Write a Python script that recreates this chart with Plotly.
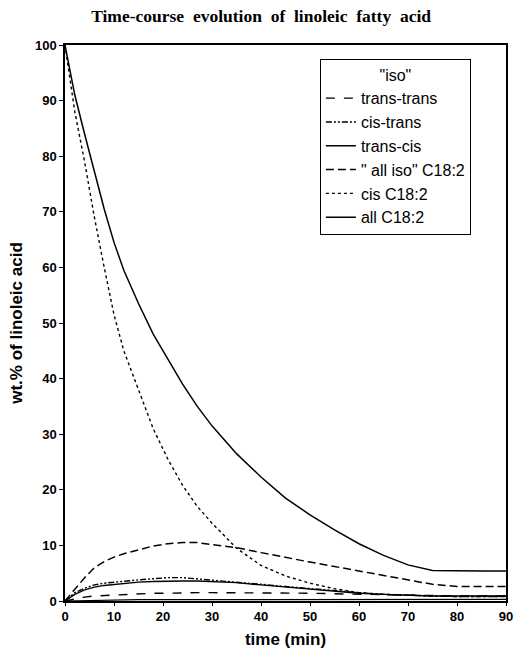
import plotly.graph_objects as go

# ---- data ----
time_min = [0, 2, 4, 6, 8, 10, 12, 15, 18, 21, 24, 27, 30, 35, 40, 45, 50, 55, 60, 65, 70, 75, 80, 85, 90]

trans_trans = [0, 0.4, 0.7, 0.9, 1.0, 1.1, 1.2, 1.3, 1.4, 1.4, 1.5, 1.5, 1.5, 1.5, 1.5, 1.5, 1.4, 1.3, 1.2, 1.1, 1.0, 0.9, 0.9, 0.9, 0.9]
cis_trans = [0, 1.5, 2.3, 2.9, 3.2, 3.4, 3.6, 3.8, 4.0, 4.2, 4.2, 4.0, 3.8, 3.4, 3.0, 2.6, 2.2, 1.8, 1.5, 1.2, 1.0, 0.9, 0.8, 0.8, 0.8]
trans_cis = [0, 1.2, 2.0, 2.5, 2.8, 3.0, 3.2, 3.4, 3.5, 3.6, 3.6, 3.6, 3.5, 3.3, 2.9, 2.5, 2.1, 1.7, 1.4, 1.2, 1.0, 0.9, 0.9, 0.9, 0.9]
all_iso = [0, 2.1, 4.2, 6.0, 7.1, 7.9, 8.5, 9.2, 9.9, 10.3, 10.5, 10.5, 10.2, 9.6, 8.7, 7.8, 7.0, 6.2, 5.4, 4.6, 3.8, 3.0, 2.6, 2.6, 2.6]
cis_c182 = [100, 88, 79, 69, 60, 51.5, 45, 38, 31, 25.5, 20.8, 17, 14, 9.5, 6.4, 4.5, 3.2, 2.2, 1.5, 1.2, 1.0, 0.9, 0.8, 0.8, 0.8]
all_c182 = [100, 91, 84, 77, 70.5, 64.5, 59.5, 53.5, 48, 43.5, 39, 35, 31.5, 26.5, 22.3, 18.5, 15.5, 12.8, 10.3, 8.2, 6.5, 5.5, 5.4, 5.4, 5.4]
iso_base = [0, 0.05, 0.1, 0.15, 0.2, 0.2, 0.2, 0.25, 0.25, 0.25, 0.25, 0.25, 0.25, 0.3, 0.3, 0.3, 0.3, 0.3, 0.3, 0.3, 0.3, 0.3, 0.3, 0.3, 0.3]

series = [
    ("trans-trans", trans_trans, "dash", 1.4),
    ("cis-trans", cis_trans, "6px,2px,2px,2px,2px,2px", 1.4),
    ("trans-cis", trans_cis, "solid", 1.4),
    ('" all iso" C18:2', all_iso, "8px,4px", 1.5),
    ("cis C18:2", cis_c182, "dot", 1.4),
    ("all C18:2", all_c182, "solid", 1.5),
]

fig = go.Figure()
# near-zero "iso" trace (no legend sample in the reference)
fig.add_trace(go.Scatter(x=time_min, y=iso_base, mode="lines", showlegend=False,
                         line=dict(color="black", width=1.2), hoverinfo="skip"))
for name, vals, dash, w in series:
    fig.add_trace(go.Scatter(x=time_min, y=vals, mode="lines", name=name,
                             line=dict(color="black", width=w, dash=dash)))

axis_font = dict(family="Liberation Sans, Arial, sans-serif", size=13, color="black", weight="bold")
title_words = "Time-course evolution of linoleic fatty acid".split(" ")

fig.update_layout(
    width=515, height=652,
    margin=dict(l=65, r=9, t=45, b=51),
    paper_bgcolor="white", plot_bgcolor="white",
    title=dict(text="&nbsp;&nbsp;".join(title_words),
               font=dict(family="Liberation Serif, Times New Roman, serif", size=17.5, color="black", weight="bold"),
               x=0.507, xanchor="center", xref="container", y=0.975, yanchor="middle"),
    legend=dict(
        x=0.578, y=0.974, xanchor="left", yanchor="top",
        bgcolor="white", bordercolor="black", borderwidth=1,
        font=dict(family="Liberation Sans, Arial, sans-serif", size=16, color="black"),
        title=dict(text='"iso"', side="top center",
                   font=dict(family="Liberation Sans, Arial, sans-serif", size=16, color="black")),
        tracegroupgap=0, itemwidth=30,
    ),
    xaxis=dict(range=[0, 90], dtick=10, tick0=0, showgrid=False, zeroline=False, automargin=False,
               showline=True, linecolor="black", linewidth=1.5, mirror=True,
               ticks="outside", ticklen=3, tickcolor="black", tickfont=axis_font,
               title=dict(text="time (min)", standoff=10,
                          font=dict(family="Liberation Sans, Arial, sans-serif", size=17, color="black", weight="bold"))),
    yaxis=dict(range=[0, 100], dtick=10, tick0=0, showgrid=False, zeroline=False, automargin=False,
               showline=True, linecolor="black", linewidth=1.5, mirror=True,
               ticks="outside", ticklen=4, tickcolor="black", tickfont=axis_font,
               title=dict(text="wt.% of linoleic acid", standoff=8,
                          font=dict(family="Liberation Sans, Arial, sans-serif", size=17, color="black", weight="bold"))),
)

fig.write_html("out.html")
